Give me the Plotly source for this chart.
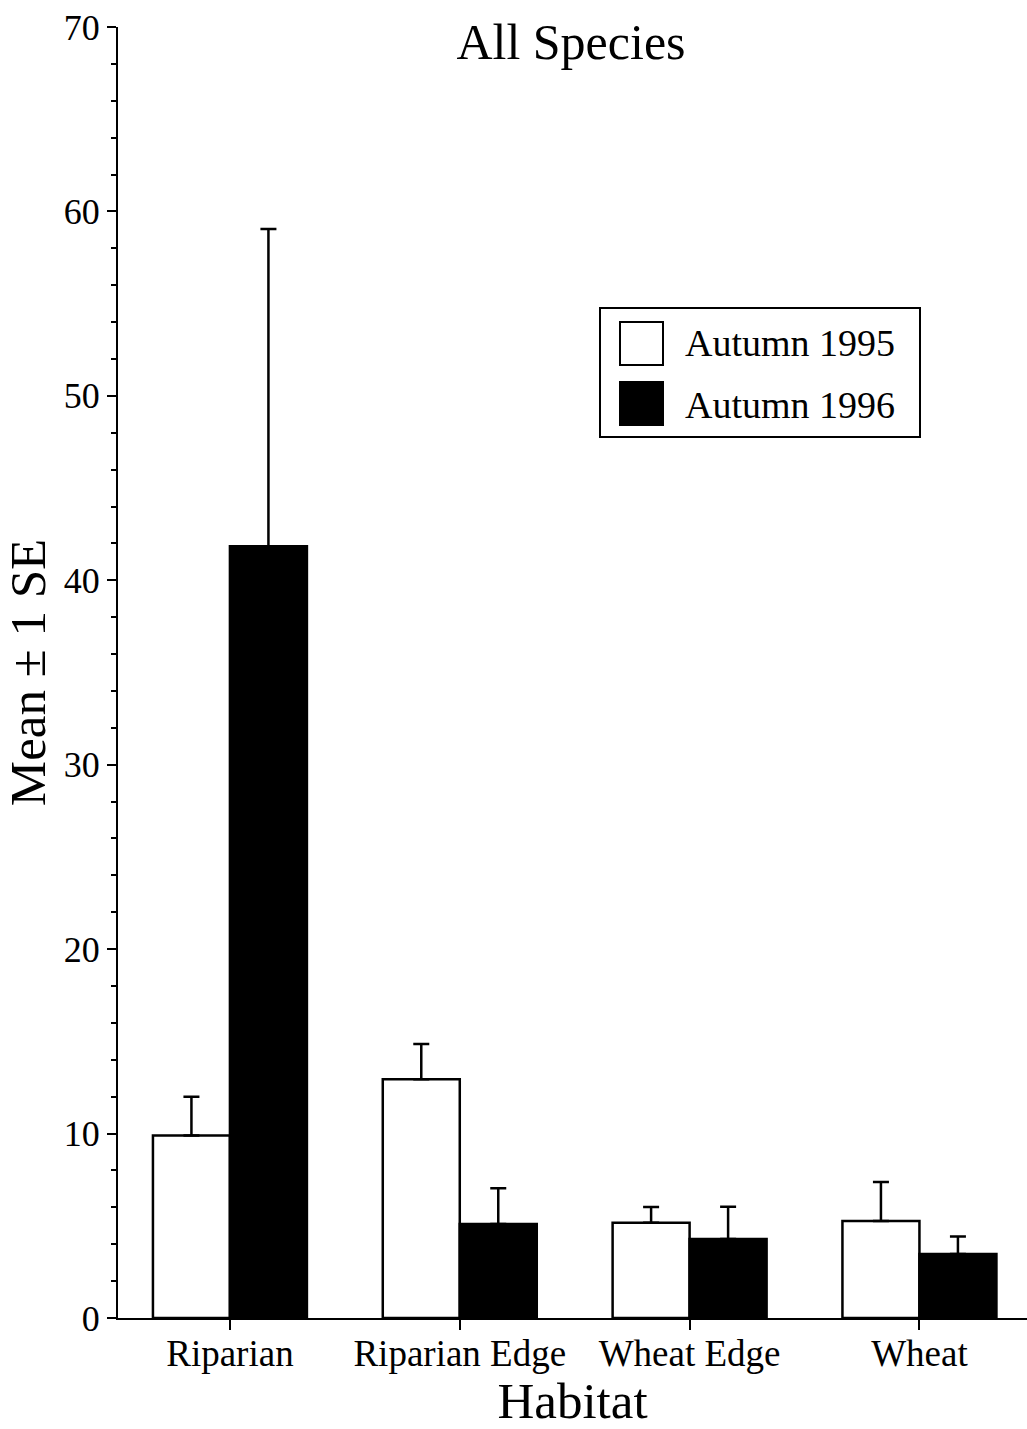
import plotly.graph_objects as go

habitats = ["Riparian", "Riparian Edge", "Wheat Edge", "Wheat"]
series_names = ["Autumn 1995", "Autumn 1996"]
mean_1995 = [9.9, 12.95, 5.17, 5.26]
se_1995 = [2.1, 1.9, 0.85, 2.12]
mean_1996 = [41.85, 5.1, 4.28, 3.47]
se_1996 = [17.2, 1.93, 1.75, 0.95]
y_ticks = [0, 10, 20, 30, 40, 50, 60, 70]

FONT = "Liberation Serif"

fig = go.Figure()
fig.add_trace(go.Bar(
    x=habitats, y=mean_1995, name=series_names[0],
    marker=dict(color="white", line=dict(color="black", width=2.5)),
    error_y=dict(type="data", symmetric=False, array=se_1995, arrayminus=[0]*4,
                 color="black", thickness=2.5, width=8),
    showlegend=False,
))
fig.add_trace(go.Bar(
    x=habitats, y=mean_1996, name=series_names[1],
    marker=dict(color="black", line=dict(color="black", width=2.5)),
    error_y=dict(type="data", symmetric=False, array=se_1996, arrayminus=[0]*4,
                 color="black", thickness=2.5, width=8),
    showlegend=False,
))

W, H = 1027, 1429
L, R, T, B = 118, 0, 27, 111
pw = W - L - R
ph = H - T - B

def px2paper(x, y):
    return (x - L) / pw, (H - B - y) / ph

shapes = []
x0, y0 = px2paper(600, 437)
x1, y1 = px2paper(920, 308)
shapes.append(dict(type="rect", xref="paper", yref="paper", x0=x0, y0=y0, x1=x1, y1=y1,
                   line=dict(color="black", width=2), fillcolor="white", layer="above"))
sx0, sy0 = px2paper(620, 365)
sx1, sy1 = px2paper(663, 322)
shapes.append(dict(type="rect", xref="paper", yref="paper", x0=sx0, y0=sy0, x1=sx1, y1=sy1,
                   line=dict(color="black", width=2), fillcolor="white", layer="above"))
sx0, sy0 = px2paper(620, 425)
sx1, sy1 = px2paper(663, 382)
shapes.append(dict(type="rect", xref="paper", yref="paper", x0=sx0, y0=sy0, x1=sx1, y1=sy1,
                   line=dict(color="black", width=2), fillcolor="black", layer="above"))

annotations = []
tx, ty1 = px2paper(683, 343)
_, ty2 = px2paper(683, 405)
for name, ty in zip(series_names, [ty1, ty2]):
    annotations.append(dict(text=name, xref="paper", yref="paper", x=tx, y=ty,
                            xanchor="left", yanchor="middle", showarrow=False,
                            font=dict(family=FONT, size=38, color="black")))

fig.update_layout(
    width=W, height=H,
    margin=dict(l=L, r=R, t=T, b=B, autoexpand=False),
    paper_bgcolor="white", plot_bgcolor="white",
    barmode="group", bargap=0.33, bargroupgap=0,
    font=dict(family=FONT, color="black"),
    title=dict(text="All Species", x=571 / W, y=1 - 41 / H, xanchor="center", yanchor="middle",
               font=dict(family=FONT, size=50, color="black")),
    shapes=shapes,
    annotations=annotations,
)
fig.update_xaxes(
    range=[-0.487, 3.468],
    showline=True, linecolor="black", linewidth=2,
    ticks="outside", ticklen=10, tickwidth=1.5, tickcolor="black",
    ticklabelstandoff=-8,
    tickfont=dict(family=FONT, size=37, color="black"),
    title=dict(text="Habitat", font=dict(family=FONT, size=51, color="black"), standoff=22),
    showgrid=False, zeroline=False,
)
fig.update_yaxes(
    range=[0, 70], tickvals=y_ticks,
    showline=True, linecolor="black", linewidth=2,
    ticks="outside", ticklen=9, tickwidth=2, tickcolor="black",
    minor=dict(dtick=2, ticks="outside", ticklen=5, tickwidth=1.5, tickcolor="black"),
    tickfont=dict(family=FONT, size=36, color="black"),
    title=dict(text="Mean ± 1 SE", font=dict(family=FONT, size=51, color="black"), standoff=14),
    showgrid=False, zeroline=False,
)

fig.write_html("out.html")
